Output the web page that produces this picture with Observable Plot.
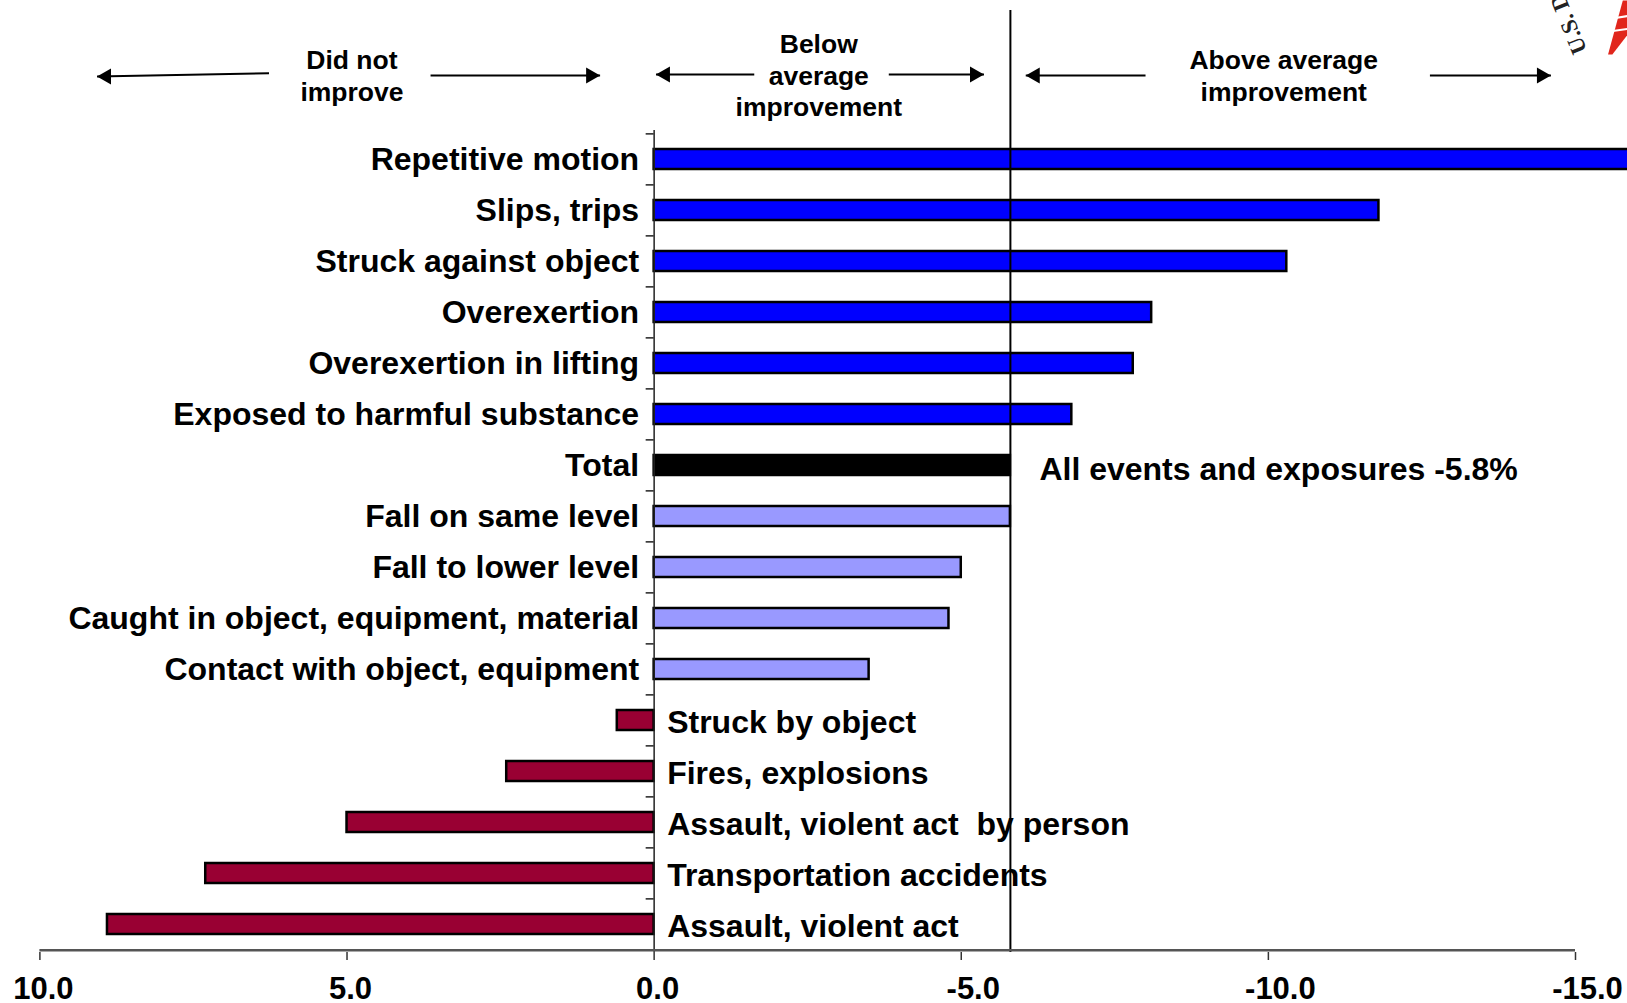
<!DOCTYPE html>
<html>
<head>
<meta charset="utf-8">
<script src="https://cdn.jsdelivr.net/npm/d3@7"></script>
<script src="https://cdn.jsdelivr.net/npm/@observablehq/plot@0.6"></script>
<style>
  html, body { margin: 0; padding: 0; background: #fff; overflow: hidden; }
  #chart svg { display: block; }
  #chart svg text { white-space: pre; }
</style>
</head>
<body>
<div id="chart"></div>
<script>
// ---------- data ----------
const categories = [
  "Repetitive motion",
  "Slips, trips",
  "Struck against object",
  "Overexertion",
  "Overexertion in lifting",
  "Exposed to harmful substance",
  "Total",
  "Fall on same level",
  "Fall to lower level",
  "Caught in object, equipment, material",
  "Contact with object, equipment",
  "Struck by object",
  "Fires, explosions",
  "Assault, violent act  by person",
  "Transportation accidents",
  "Assault, violent act"
];
const values = [-16.5, -11.8, -10.3, -8.1, -7.8, -6.8, -5.8, -5.8, -5.0, -4.8, -3.5, 0.6, 2.4, 5.0, 7.3, 8.9];
const groups = ["above","above","above","above","above","above","total","below","below","below","below","none","none","none","none","none"];
const groupColors = {above: "#0000FF", total: "#000000", below: "#9999FF", none: "#990033"};
const totalValue = -5.8;
const totalLabel = "All events and exposures -5.8%";
const xTicks = [10, 5, 0, -5, -10, -15];
const xDomain = [10, -15];

// header annotations
const headerLabels = ["Did not\nimprove", "Below\naverage\nimprovement", "Above average\nimprovement"];
const headerLabelX = [4.92, -2.68, -10.25];
const arrowFrom = [6.27, 3.64, -1.63, -3.82, -8.0, -12.63];
const arrowTo   = [9.07, 0.88, -0.03, -5.37, -6.05, -14.6];
const arrowFromY = [72.7, 75, 74, 74, 75, 75];
const arrowToY   = [76, 75, 74, 74, 75, 75];

// ---------- layout ----------
const W = 1627;
const headerH = 130;
const mainH = 1003 - headerH;
const mL = 39.4, mR = 52, mT = 2, mB = 51;
const step = (mainH - mT - mB) / categories.length;
const FONT = "'Liberation Sans', Arial, Helvetica, sans-serif";

const rows = categories.map((c, i) => ({cat: c, value: values[i], group: groups[i], color: groupColors[groups[i]]}));
const arrows = arrowFrom.map((x1, i) => ({x1, x2: arrowTo[i], y1: arrowFromY[i], y2: arrowToY[i]}));

// ---------- header plot ----------
const header = Plot.plot({
  width: W, height: headerH,
  marginLeft: mL, marginRight: mR, marginTop: 0, marginBottom: 0,
  x: {domain: xDomain, axis: null},
  y: {domain: [0, headerH], range: [0, headerH], axis: null},
  style: {fontFamily: FONT, background: "white", overflow: "hidden"},
  marks: [
    Plot.ruleX([totalValue], {y1: 10, y2: headerH, stroke: "#000", strokeWidth: 2}),
    Plot.link(arrows, {x1: "x1", x2: "x2", y1: "y1", y2: "y2", stroke: "#000", strokeWidth: 2}),
    Plot.dot(arrows.filter(a => a.x2 > a.x1), {x: "x2", y: "y2", symbol: "triangle", r: 6, rotate: -90, dx: 9.3, fill: "#000", stroke: "none"}),
    Plot.dot(arrows.filter(a => a.x2 < a.x1), {x: "x2", y: "y2", symbol: "triangle", r: 6, rotate: 90, dx: -9.3, fill: "#000", stroke: "none"}),
    Plot.text(headerLabels, {x: (d, i) => headerLabelX[i], y: 74, text: d => d, fontSize: 26.5, fontWeight: "bold", lineHeight: 1.2, fill: "#000"}),
    // cropped seal in the corner
    Plot.line([{x: -15.53, y: 54}, {x: -15.77, y: 0}, {x: -16.0, y: 0}, {x: -16.0, y: 22}, {x: -15.6, y: 54}],
      {x: "x", y: "y", fill: "#e1261c", stroke: "none"}),
    Plot.link([{x1: -15.6, x2: -16.0, y1: 18, y2: 14}, {x1: -15.55, x2: -16.0, y1: 31, y2: 27}],
      {x1: "x1", x2: "x2", y1: "y1", y2: "y2", stroke: "#fff", strokeWidth: 2}),
    Plot.text(["U.S. D"], {x: -15.19, y: 50, text: d => d, rotate: -112, textAnchor: "start", fontSize: 23, fontWeight: "bold",
      fontFamily: "'Liberation Serif', 'DejaVu Serif', serif", fill: "#222", lineAnchor: "bottom"})
  ]
});

// ---------- main plot ----------
const lastCat = categories[categories.length - 1];
const tickText = {text: d => d.toFixed(1), frameAnchor: "bottom", dy: 37, lineAnchor: "middle", fontSize: 31, fontWeight: "bold", fill: "#000"};
const main = Plot.plot({
  width: W, height: mainH,
  marginLeft: mL, marginRight: mR, marginTop: mT, marginBottom: mB,
  x: {domain: xDomain, axis: null},
  y: {domain: categories, paddingInner: 0.6, paddingOuter: 0.3, axis: null},
  color: {type: "identity"},
  style: {fontFamily: FONT, background: "white", overflow: "hidden"},
  marks: [
    Plot.barX(rows, {y: "cat", x1: 0, x2: "value", fill: "color", stroke: "#000", strokeWidth: 2.5}),
    // y axis line at zero and boundary ticks
    Plot.ruleX([0], {stroke: "#222", strokeWidth: 1.5, insetTop: -3}),
    Plot.ruleY(categories, {y: d => d, x1: 0, x2: 0.13, dy: -step / 2, stroke: "#222", strokeWidth: 1.5}),
    Plot.ruleY([lastCat], {y: d => d, x1: 0, x2: 0.13, dy: step / 2, stroke: "#222", strokeWidth: 1.5}),
    // total reference line
    Plot.ruleX([totalValue], {stroke: "#000", strokeWidth: 2, insetTop: -4}),
    // x axis line, ticks and labels
    Plot.ruleY([lastCat], {y: d => d, x1: xDomain[0], x2: xDomain[1], dy: step / 2, stroke: "#555", strokeWidth: 2.5}),
    Plot.axisX({ticks: xTicks, tickFormat: () => "", label: null, tickSize: 8, stroke: "#333", strokeWidth: 1.5, anchor: "bottom"}),
    Plot.text(xTicks.filter(t => t >= 0), {x: d => d, dx: 3.5, ...tickText}),
    Plot.text(xTicks.filter(t => t < 0), {x: d => d, dx: 12, ...tickText}),
    // category labels
    Plot.text(rows.filter(r => r.value <= 0), {x: 0, y: "cat", text: "cat", textAnchor: "end", dx: -15, fontSize: 32, fontWeight: "bold", fill: "#000"}),
    Plot.text(rows.filter(r => r.value > 0), {x: 0, y: "cat", text: "cat", textAnchor: "start", dx: 13, dy: 2, fontSize: 32, fontWeight: "bold", fill: "#000"}),
    // total annotation
    Plot.text([totalLabel], {x: totalValue, y: () => "Total", text: d => d, textAnchor: "start", dx: 29, dy: 4, fontSize: 32, fontWeight: "bold", fill: "#000"})
  ]
});

const chart = document.getElementById("chart");
chart.appendChild(header);
chart.appendChild(main);
</script>
</body>
</html>
